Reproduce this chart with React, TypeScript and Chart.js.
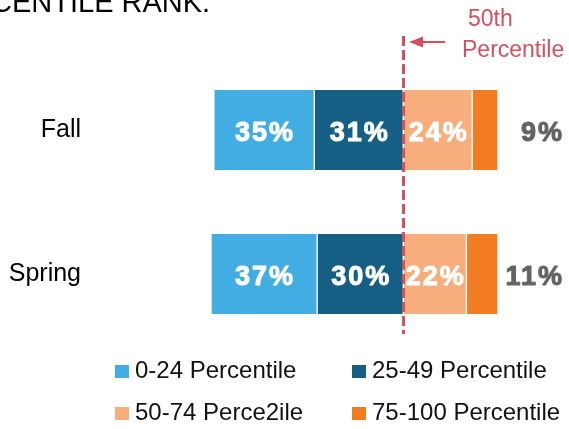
import React, { useEffect, useRef } from "react";
import { Chart, registerables } from "chart.js";

Chart.register(...registerables);

const titleText = "CENTILE RANK.";
const categories = ["Fall", "Spring"];
const seriesLabels = ["0-24 Percentile", "25-49 Percentile", "50-74 Perce2ile", "75-100 Percentile"];
const seriesColors = ["#42ADE3", "#155E84", "#F8AE7C", "#F37B21"];
const p0to24 = [35, 37];
const p25to49 = [31, 30];
const p50to74 = [24, 22];
const p75to100 = [9, 11];
const markerLines = ["50th", "Percentile"];

const FONT = "'Liberation Sans', Arial, Helvetica, sans-serif";
const RED = "#D4505F";

const series = [p0to24, p25to49, p50to74, p75to100];

function segmentRange(i: number, s: number): [number, number] {
  const below = p0to24[i] + p25to49[i];
  if (s === 0) return [-below, -p25to49[i]];
  if (s === 1) return [-p25to49[i], 0];
  if (s === 2) return [0, p50to74[i]];
  return [p50to74[i], p50to74[i] + p75to100[i]];
}

const overlayPlugin = {
  id: "overlay",
  afterDatasetsDraw(chart: any) {
    const ctx = chart.ctx as CanvasRenderingContext2D;
    const xs = chart.scales.x;
    const zeroX = Math.round(xs.getPixelForValue(0)) + 0.5;

    // title (cut at top)
    ctx.save();
    ctx.fillStyle = "#000";
    ctx.font = `29px ${FONT}`;
    ctx.textAlign = "left";
    ctx.textBaseline = "alphabetic";
    ctx.fillText(titleText, -9, 12);
    ctx.restore();

    // dashed 50th percentile line
    ctx.save();
    ctx.strokeStyle = RED;
    ctx.lineWidth = 3;
    ctx.setLineDash([10, 4]);
    ctx.beginPath();
    ctx.moveTo(zeroX, 36);
    ctx.lineTo(zeroX, 334);
    ctx.stroke();
    ctx.setLineDash([]);
    // arrow
    const tipX = zeroX + 5.5;
    const tipY = 42;
    ctx.fillStyle = RED;
    ctx.beginPath();
    ctx.moveTo(tipX, tipY);
    ctx.lineTo(tipX + 14, tipY - 5.5);
    ctx.lineTo(tipX + 14, tipY + 5.5);
    ctx.closePath();
    ctx.fill();
    ctx.lineWidth = 2;
    ctx.beginPath();
    ctx.moveTo(tipX + 12, tipY);
    ctx.lineTo(tipX + 36, tipY);
    ctx.stroke();
    // marker text
    ctx.font = `23px ${FONT}`;
    ctx.textAlign = "left";
    ctx.textBaseline = "alphabetic";
    ctx.fillText(markerLines[0], 468, 26);
    ctx.fillText(markerLines[1], 462, 57);
    ctx.restore();

    // data labels
    ctx.save();
    ctx.font = `bold 27px ${FONT}`;
    (ctx as any).letterSpacing = "2px";
    ctx.textBaseline = "alphabetic";
    ctx.lineWidth = 1;
    ctx.lineJoin = "round";
    chart.data.datasets.forEach((ds: any, d: number) => {
      const meta = chart.getDatasetMeta(d);
      meta.data.forEach((el: any, i: number) => {
        const text = `${series[d][i]}%`;
        const y = el.y + 11;
        let x: number;
        if (d < 3) {
          ctx.fillStyle = "#ffffff";
          ctx.strokeStyle = "#ffffff";
          ctx.textAlign = "center";
          x = (el.x + el.base) / 2 + 1;
        } else {
          ctx.fillStyle = "#646464";
          ctx.strokeStyle = "#646464";
          ctx.textAlign = "right";
          x = chart.chartArea.right + 66;
        }
        ctx.fillText(text, x, y);
        ctx.strokeText(text, x, y);
      });
    });
    ctx.restore();

    // legend (2 x 2)
    ctx.save();
    ctx.font = `24px ${FONT}`;
    ctx.textAlign = "left";
    ctx.textBaseline = "alphabetic";
    const colX = [115, 352];
    const rowBase = [378, 420];
    chart.data.datasets.forEach((ds: any, d: number) => {
      const cx = colX[d % 2];
      const by = rowBase[Math.floor(d / 2)];
      ctx.fillStyle = ds.backgroundColor;
      ctx.fillRect(cx, by - 13, 14, 13);
      ctx.fillStyle = "#111";
      ctx.fillText(ds.label, cx + 20, by);
    });
    ctx.restore();
  },
};

export default function App() {
  const ref = useRef<HTMLCanvasElement>(null);
  useEffect(() => {
    const canvas = ref.current;
    if (!canvas) return;
    const datasets = series.map((_, s) => ({
      label: seriesLabels[s],
      data: categories.map((__, i) => segmentRange(i, s)),
      backgroundColor: seriesColors[s],
      borderColor: "#ffffff",
      borderWidth: { left: 1, right: 1, top: 0, bottom: 0 },
      borderSkipped: false,
      grouped: false,
      barThickness: 80,
    }));
    const chart = new Chart(canvas, {
      type: "bar",
      data: { labels: categories, datasets: datasets as any },
      plugins: [overlayPlugin],
      options: {
        indexAxis: "y",
        animation: false,
        responsive: true,
        maintainAspectRatio: false,
        layout: { padding: { top: 58, bottom: 83, left: 0, right: 71 } },
        scales: {
          x: { type: "linear", min: -67, max: 33, display: false },
          y: {
            type: "category",
            grid: { display: false, drawTicks: false },
            border: { display: false },
            ticks: { padding: 130, color: "#000", font: { size: 25, family: FONT } },
            afterFit(scale: any) {
              scale.width = 211;
              scale.paddingTop = 0;
              scale.paddingBottom = 0;
            },
          },
        },
        plugins: {
          legend: { display: false },
          tooltip: { enabled: false },
          title: { display: false },
        },
      } as any,
    });
    return () => chart.destroy();
  }, []);
  return (
    <div style={{ position: "fixed", left: 0, top: 0, width: 569, height: 429, background: "#fff" }}>
      <canvas ref={ref} />
    </div>
  );
}
